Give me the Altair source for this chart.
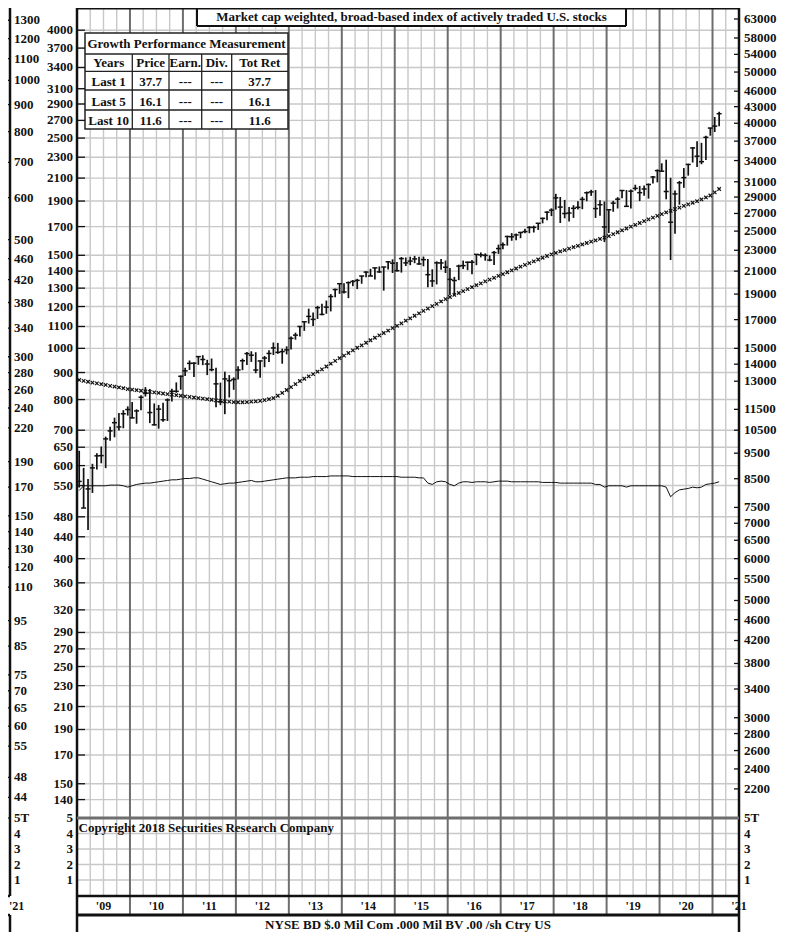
import altair as alt
import pandas as pd

# ---------------- tick labels ----------------
right_vals = [63000, 58000, 54000, 50000, 46000, 43000, 40000, 37000, 34000, 31000, 29000, 27000,
              25000, 23000, 21000, 19000, 17000, 15000, 14000, 13000, 11500, 10500, 9500, 8500,
              7500, 7000, 6500, 6000, 5500, 5000, 4600, 4200, 3800, 3400, 3000, 2800, 2600, 2400, 2200]
inner_vals = [4000, 3700, 3400, 3100, 2900, 2700, 2500, 2300, 2100, 1900, 1700, 1500, 1400, 1300,
              1200, 1100, 1000, 900, 800, 700, 650, 600, 550, 480, 440, 400, 360, 320, 290, 270,
              250, 230, 210, 190, 170, 150, 140]
outer_vals = [1300, 1200, 1100, 1000, 900, 800, 700, 600, 500, 460, 420, 380, 340, 300, 280, 260,
              240, 220, 190, 170, 150, 140, 130, 120, 110, 95, 85, 75, 70, 65, 60, 55, 48, 44]
vol_levels = [5, 4, 3, 2, 1]
vol_outer = ["5T", "4", "3", "2", "1"]
vol_inner = ["5", "4", "3", "2", "1"]
years = list(range(2009, 2021))
year_labels = ["'09", "'10", "'11", "'12", "'13", "'14", "'15", "'16", "'17", "'18", "'19", "'20"]

# ---------------- monthly index bars, Jan 2009 .. Feb 2021 ----------------
high = [
    9600, 8910, 8490, 9070, 9500, 9780, 10210, 10660, 11090, 11320, 11460, 11650,
    11870, 11500, 12230, 12670, 12570, 11800, 11720, 11830, 12060, 12580, 12930, 13330,
    13780, 14230, 14120, 14510, 14560, 14270, 14350, 13790, 12920, 13550, 13350, 13220,
    13870, 14340, 14770, 14810, 14750, 14210, 14510, 14880, 15390, 15360, 14980, 15130,
    15800, 16060, 16510, 16840, 17830, 17530, 18050, 18210, 18470, 19000, 19460, 19890,
    19920, 20070, 20200, 20310, 20560, 21000, 21210, 21320, 21430, 21380, 21960, 22110,
    21860, 22330, 22290, 22360, 22440, 22370, 22380, 22150, 21170, 21920, 22140, 21990,
    21280, 20480, 21600, 21990, 21890, 22050, 22620, 22780, 22690, 22490, 22930, 23570,
    23790, 24500, 24780, 24730, 24920, 25260, 25550, 25600, 25870, 26510, 27250, 27610,
    29410, 29010, 28640, 27760, 27990, 28470, 29030, 29710, 29930, 29900, 28610, 28440,
    27490, 28530, 28990, 29870, 29900, 29980, 30600, 30440, 30500, 30760, 31790, 32710,
    33590, 34130, 31540, 29830, 31110, 32910, 33520, 36070, 36970, 36730, 37870, 39220,
    41100, 42050]
low = [
    8180, 7480, 6800, 7990, 8850, 9090, 8900, 10030, 10180, 10490, 10590, 11190,
    11060, 10800, 11450, 12160, 10830, 10720, 10570, 10890, 10930, 11900, 12360, 12530,
    13300, 13650, 13240, 13960, 13940, 13350, 13570, 11610, 11710, 11260, 12110, 12520,
    13090, 13640, 13950, 14140, 13460, 13200, 13820, 14130, 14570, 14650, 14030, 14610,
    14920, 15580, 15790, 16190, 16710, 16530, 17050, 17330, 17440, 17620, 18740, 19020,
    19050, 18670, 19670, 19420, 19880, 20440, 20560, 20250, 20850, 19290, 21160, 20830,
    20970, 20870, 21470, 21550, 21740, 21600, 21450, 19580, 19610, 19820, 21120, 20830,
    18920, 18890, 20190, 21190, 21090, 20710, 21550, 22300, 21980, 21920, 21580, 22640,
    23090, 23470, 23970, 24020, 24240, 24770, 24770, 24850, 25130, 25860, 26220, 26690,
    27460, 25900, 26430, 26080, 26480, 27460, 27510, 28480, 29150, 26480, 26740, 23830,
    24800, 27200, 27590, 28850, 27840, 27600, 29840, 28500, 29180, 28800, 30750, 30920,
    32350, 28720, 22040, 24710, 28050, 30190, 31840, 33710, 33070, 33460, 34070, 37890,
    38500, 39500]
close = [
    8400, 7480, 8130, 8910, 9390, 9400, 10110, 10470, 10850, 10650, 11280, 11490,
    11080, 11420, 12120, 12330, 11340, 10750, 11510, 10990, 11980, 12440, 12440, 13280,
    13600, 14050, 14060, 14470, 14290, 14010, 13670, 12850, 11890, 13130, 13030, 13100,
    13650, 14210, 14660, 14560, 13650, 14200, 14380, 14670, 15030, 14740, 14790, 14900,
    15670, 15890, 16500, 16840, 17240, 17020, 17910, 17390, 17950, 18800, 19380, 19880,
    19180, 19970, 20080, 20170, 20560, 20910, 20560, 21300, 20930, 21380, 21870, 21740,
    21040, 22180, 21770, 21940, 22150, 21670, 22080, 20680, 20120, 21770, 21760, 21360,
    20260, 20160, 21470, 21510, 21830, 21830, 22590, 22540, 22490, 22040, 22770, 23170,
    23560, 24420, 24390, 24590, 24850, 24950, 25410, 25410, 25870, 26430, 27150, 27390,
    28900, 27760, 26990, 27050, 27610, 27730, 28710, 29550, 29660, 27580, 28050, 25460,
    27440, 28240, 28730, 29840, 27850, 29750, 30120, 29560, 30040, 30630, 31650, 32540,
    32460, 29710, 25990, 29400, 30860, 31560, 33430, 35920, 34650, 33830, 37620, 39170,
    39500, 41700]

# long-term average ("x" line), index units
xline = [13070, 13020, 12970, 12920, 12880, 12830, 12790, 12740, 12700, 12650, 12610, 12560,
         12530, 12500, 12470, 12440, 12410, 12380, 12350, 12320, 12290, 12260, 12230, 12200,
         12170, 12140, 12110, 12080, 12050, 12020, 11990, 11960, 11930, 11910, 11890, 11870,
         11860, 11860, 11870, 11890, 11910, 11930, 11970, 12020, 12080, 12200, 12350, 12510,
         12670, 12840, 13010, 13140, 13280, 13410, 13550, 13690, 13860, 14030, 14200, 14370,
         14530, 14700, 14870, 15040, 15200, 15370, 15540, 15710, 15870, 16040, 16210, 16380,
         16550, 16730, 16920, 17100, 17290, 17470, 17660, 17840, 18030, 18210, 18400, 18590,
         18760, 18930, 19090, 19250, 19420, 19580, 19750, 19910, 20080, 20240, 20400, 20570,
         20730, 20900, 21070, 21240, 21410, 21580, 21750, 21920, 22090, 22260, 22430, 22590,
         22730, 22880, 23020, 23160, 23310, 23450, 23590, 23740, 23880, 24020, 24160, 24300,
         24470, 24680, 24880, 25090, 25290, 25490, 25700, 25900, 26110, 26310, 26520, 26720,
         26920, 27120, 27310, 27510, 27700, 27900, 28090, 28290, 28480, 28700, 28950, 29200,
         29600, 30040]

# relative strength line, outer-left scale units
rs_line = [167.5, 171, 171, 171, 171, 171, 171, 171.5, 171.5, 171.5, 171, 170,
           171, 172, 172.5, 173, 173, 173.5, 174, 174.5, 175, 175.5, 175.5, 176,
           176.5, 176.5, 177, 177, 176, 175, 174, 173, 172, 172.5, 173, 173,
           173.5, 174, 174.5, 175, 174, 174, 174.5, 175, 175.5, 176, 176.5, 177,
           177, 177, 177.5, 177.5, 177.5, 178, 178, 178, 178, 178.5, 178.5, 178.5,
           178.5, 178.5, 178, 178, 178, 178, 178, 178, 178, 178, 178, 178,
           178, 177.5, 177.5, 177.5, 177.5, 177, 177, 173, 172, 174, 174.5, 174,
           172, 171, 173, 174, 174, 173.5, 174, 174, 174, 173.5, 174, 174.5,
           174.5, 174.5, 174, 174, 174, 174, 174, 174, 174, 173.5, 173.5, 173.5,
           173.5, 173, 173, 173, 173, 173, 173, 173, 173, 172, 172, 170,
           171, 171, 171, 171, 170, 171, 171, 171, 171, 171, 171, 171,
           171, 170, 163, 166, 168, 168.5, 169, 170, 169.5, 170, 172, 172.5,
           173, 174]

n = len(close)
month_t = [2009 + (i + 0.5) / 12 for i in range(n)]
bars = pd.DataFrame({"t": month_t, "high": high, "low": low, "close": close, "xl": xline, "rs": rs_line})

# ---------------- scales ----------------
W, H = 662, 924
PH = 810
FONT = "Liberation Serif"
INK = "#111"
xs = alt.Scale(domain=[2009, 2021.5], range=[0, W], nice=False, zero=False)
ps = alt.Scale(type="log", domain=[1938, 66094], range=[PH, 0], nice=False)
ins = alt.Scale(type="log", domain=[129.2, 4406.3], range=[PH, 0], nice=False)
outs = alt.Scale(type="log", domain=[40.21, 1371.2], range=[PH, 0], nice=False)
vs = alt.Scale(domain=[0, 5], range=[887.5, 810], nice=False, zero=False)
pxs = alt.Scale(domain=[0, W], range=[0, W], nice=False, zero=False)
pys = alt.Scale(domain=[0, H], range=[0, H], nice=False, zero=False)

layers = []

# horizontal grid
layers.append(alt.Chart(pd.DataFrame({"v": inner_vals})).mark_rule(color="#c8c8c8", strokeWidth=1.4).encode(
    y=alt.Y("v:Q", scale=ins, axis=None), x=alt.value(0), x2=alt.value(W)))
layers.append(alt.Chart(pd.DataFrame({"v": [1, 2, 3, 4]})).mark_rule(color="#c8c8c8", strokeWidth=1.4).encode(
    y=alt.Y("v:Q", scale=vs, axis=None), x=alt.value(0), x2=alt.value(W)))

# quarter / year vertical lines
qt = [y + q for y in range(2009, 2022) for q in (0.25, 0.5, 0.75) if y + q < 2021.5]
layers.append(alt.Chart(pd.DataFrame({"t": qt})).mark_rule(color="#c8c8c8", strokeWidth=1.4).encode(
    x=alt.X("t:Q", scale=xs, axis=None), y=alt.value(0), y2=alt.value(888)))
layers.append(alt.Chart(pd.DataFrame({"t": list(range(2010, 2022))})).mark_rule(color="#6e6e6e", strokeWidth=2).encode(
    x=alt.X("t:Q", scale=xs, axis=None), y=alt.value(0), y2=alt.value(907)))

# relative strength line
layers.append(alt.Chart(bars).mark_line(color=INK, strokeWidth=1).encode(
    x=alt.X("t:Q", scale=xs, axis=None), y=alt.Y("rs:Q", scale=outs, axis=None)))
# x-line
layers.append(alt.Chart(bars).mark_point(shape="M-1,-1L1,1M-1,1L1,-1", size=12, strokeWidth=1.2,
                                         color=INK, filled=False, opacity=1).encode(
    x=alt.X("t:Q", scale=xs, axis=None), y=alt.Y("xl:Q", scale=ps, axis=None)))
# high-low bars and close ticks
layers.append(alt.Chart(bars).mark_rule(color=INK, strokeWidth=1.7).encode(
    x=alt.X("t:Q", scale=xs, axis=None), y=alt.Y("low:Q", scale=ps, axis=None), y2="high:Q"))
layers.append(alt.Chart(bars).mark_tick(color=INK, orient="horizontal", size=5, thickness=1.5, opacity=1).encode(
    x=alt.X("t:Q", scale=xs, axis=None), y=alt.Y("close:Q", scale=ps, axis=None)))

# frame segments (layout, in plot pixels)
segs = []
def seg(x1, y1, x2, y2, w, c=INK):
    segs.append(dict(x1=x1, y1=y1, x2=x2, y2=y2, w=w, c=c))
seg(0, 0, W, 0, 3)
seg(0, 0, 0, H, 2.5)
seg(W, 0, W, H, 2.5)
seg(0, 810, W, 810, 3, "#6e6e6e")
seg(-77, 810, -67, 810, 2, "#6e6e6e")
seg(0, 888, W, 888, 2.5)
seg(0, 907, W, 907, 3)
seg(-77, 888, -67, 888, 2.5)
seg(-77, 907, -67, 907, 2.5)
seg(-67, 0, -67, 888, 2.5)
seg(-67, 907, -67, H, 2.5)
seg(120, 0, 549, 0, 2)
seg(120, 0, 120, 18, 2)
seg(549, 0, 549, 18, 2)
seg(120, 18, 549, 18, 2)
segdf = pd.DataFrame(segs)

layers.append(alt.Chart(pd.DataFrame({"x1": [120], "x2": [549], "y1": [0], "y2": [18]})).mark_rect(fill="white").encode(
    x=alt.X("x1:Q", scale=pxs, axis=None), x2="x2:Q", y=alt.Y("y1:Q", scale=pys, axis=None), y2="y2:Q"))
layers.append(alt.Chart(pd.DataFrame({"x1": [8], "x2": [211], "y1": [25], "y2": [121]})).mark_rect(
    fill="white", stroke="#222", strokeWidth=1.5).encode(
    x=alt.X("x1:Q", scale=pxs, axis=None), x2="x2:Q", y=alt.Y("y1:Q", scale=pys, axis=None), y2="y2:Q"))
tsegs = []
for yy in [46, 63.3, 82, 102]:
    tsegs.append(dict(x1=8, y1=yy, x2=211, y2=yy))
for xx in [55.3, 92, 124.7, 154.7]:
    tsegs.append(dict(x1=xx, y1=46, x2=xx, y2=121))
layers.append(alt.Chart(pd.DataFrame(tsegs)).mark_rule(color="#222", strokeWidth=1.3).encode(
    x=alt.X("x1:Q", scale=pxs, axis=None), x2="x2:Q", y=alt.Y("y1:Q", scale=pys, axis=None), y2="y2:Q"))

layers.append(alt.Chart(segdf).mark_rule().encode(
    x=alt.X("x1:Q", scale=pxs, axis=None), x2="x2:Q",
    y=alt.Y("y1:Q", scale=pys, axis=None), y2="y2:Q",
    strokeWidth=alt.StrokeWidth("w:Q", scale=None), color=alt.Color("c:N", scale=None)))

# growth table text
table_cols = ["Years", "Price", "Earn.", "Div.", "Tot Ret"]
table_rows = [["Last 1", "37.7", "---", "---", "37.7"],
              ["Last 5", "16.1", "---", "---", "16.1"],
              ["Last 10", "11.6", "---", "---", "11.6"]]
col_x = [31.7, 73.7, 108.3, 139.7, 182.7]
row_y = [55.3, 73.7, 93.7, 112.7]
cells = []
for j, c in enumerate(table_cols):
    cells.append(dict(px=col_x[j], py=row_y[0], s=c))
for i, r in enumerate(table_rows):
    for j, c in enumerate(r):
        cells.append(dict(px=col_x[j], py=row_y[i + 1], s=c))
cells.append(dict(px=109.5, py=35.5, s="Growth Performance Measurement"))
layers.append(alt.Chart(pd.DataFrame(cells)).mark_text(font=FONT, fontWeight="bold", fontSize=13,
                                                      align="center", baseline="middle", color=INK).encode(
    x=alt.X("px:Q", scale=pxs, axis=None), y=alt.Y("py:Q", scale=pys, axis=None), text="s:N"))

# title / copyright / footer
texts = pd.DataFrame([
    dict(px=334.5, py=9, s="Market cap weighted, broad-based index of actively traded U.S. stocks", a="center"),
    dict(px=1.5, py=820, s="Copyright 2018 Securities Research Company", a="left"),
    dict(px=331, py=917, s="NYSE BD  $.0 Mil Com .000 Mil BV .00 /sh  Ctry US", a="center"),
])
for a in ["center", "left"]:
    layers.append(alt.Chart(texts[texts.a == a]).mark_text(font=FONT, fontWeight="bold", fontSize=13, align=a,
                                                          baseline="middle", color=INK).encode(
        x=alt.X("px:Q", scale=pxs, axis=None), y=alt.Y("py:Q", scale=pys, axis=None), text="s:N"))

# y-axis labels & ticks
def labels(vals, scale, xpos, align, ticks):
    df = pd.DataFrame({"v": vals, "s": [str(v) for v in vals]})
    out = [alt.Chart(df).mark_text(font=FONT, fontWeight="bold", fontSize=13, align=align, baseline="middle",
                                   color=INK).encode(
        y=alt.Y("v:Q", scale=scale, axis=None), x=alt.value(xpos), text="s:N")]
    out.append(alt.Chart(df).mark_rule(color=INK, strokeWidth=1.3).encode(
        y=alt.Y("v:Q", scale=scale, axis=None), x=alt.value(ticks[0]), x2=alt.value(ticks[1])))
    return out

layers += labels(right_vals, ps, 667, "left", (657, W))
layers += labels(inner_vals, ins, -4, "right", (0, 8))
layers += labels(outer_vals, outs, -63, "left", (-77, -67))

vdf = pd.DataFrame({"v": vol_levels, "o": vol_outer, "i": vol_inner})
for fld, xpos, al in [("o", -63, "left"), ("i", -4, "right"), ("o", 667, "left")]:
    layers.append(alt.Chart(vdf).mark_text(font=FONT, fontWeight="bold", fontSize=13, align=al, baseline="middle",
                                           color=INK).encode(
        y=alt.Y("v:Q", scale=vs, axis=None), x=alt.value(xpos), text=f"{fld}:N"))

# year labels
ydf = pd.DataFrame({"t": [y + 0.5 for y in years] + [2021.5], "s": year_labels + ["'21"]})
layers.append(alt.Chart(ydf).mark_text(font=FONT, fontWeight="bold", fontSize=12, align="center",
                                       baseline="middle", color=INK).encode(
    x=alt.X("t:Q", scale=xs, axis=None), y=alt.value(898), text="s:N"))
layers.append(alt.Chart(pd.DataFrame({"s": ["'21"]})).mark_text(font=FONT, fontWeight="bold", fontSize=12,
                                                               align="left", baseline="middle", color=INK).encode(
    x=alt.value(-68), y=alt.value(898), text="s:N"))

chart = alt.layer(*layers).resolve_scale(x="independent", y="independent").properties(
    width=W, height=H, autosize=alt.AutoSizeParams(type="none"),
    padding={"left": 69, "top": 0, "right": 52, "bottom": 0},
    background="white",
).configure_view(stroke=None)

chart.save("out.html", embed_options={"renderer": "svg", "actions": False})
